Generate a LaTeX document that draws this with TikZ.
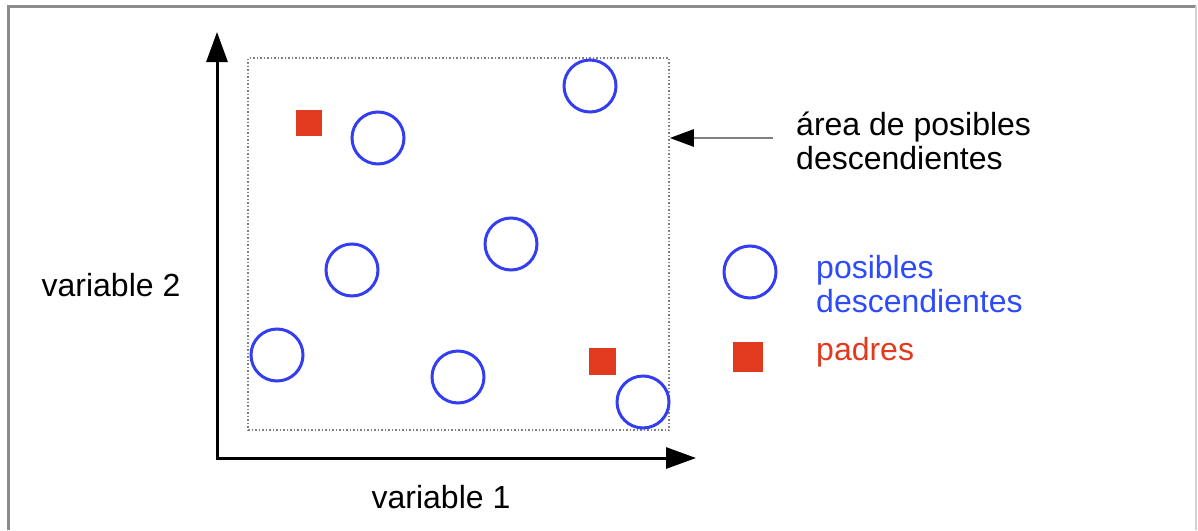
\documentclass[tikz,border=0pt]{standalone}
\usepackage{fontspec}
\setmainfont{Liberation Sans}
\usetikzlibrary{arrows.meta}
\definecolor{cblue}{RGB}{52,62,240}
\definecolor{tblue}{RGB}{45,75,250}
\definecolor{cred}{RGB}{226,58,30}
\definecolor{framegray}{RGB}{140,140,140}
\begin{document}
\begin{tikzpicture}[x=1pt,y=-1pt,
  desc/.style={circle,draw=cblue,line width=3pt,minimum size=52pt,inner sep=0pt},
  par/.style={rectangle,fill=cred,inner sep=0pt},
  axis/.style={line width=3pt,-{Triangle[length=30pt,width=21pt]}},
  lbl/.style={font=\fontsize{32}{34}\selectfont,inner sep=0pt,align=left}]
\useasboundingbox (0,0) rectangle (1198,530);
% frame
\draw[framegray,line width=3pt] (8,530) -- (8,6) -- (1196,6);
\draw[framegray!40,line width=2pt] (1196,6) -- (1196,530);
% area of possible offspring
\node[draw=gray,dotted,line width=1.5pt,minimum width=421pt,minimum height=372pt,inner sep=0pt] (area) at (458.5,244) {};
% axes
\coordinate (o) at (217,458);
\coordinate (ytip) at (217,32);
\coordinate (xtip) at (696,458);
\draw[axis] (o) -- (ytip);
\draw[axis] ([xshift=-1.5pt]o) -- (xtip);
% circles
\node[desc] (c1) at (590,86) {};
\node[desc] (c2) at (378,138) {};
\node[desc] (c3) at (511,244) {};
\node[desc] (c4) at (352,270) {};
\node[desc] (c5) at (277,355) {};
\node[desc] (c6) at (458,377) {};
\node[desc] (c7) at (643,402) {};
% parents
\node[par,minimum size=26pt] (p1) at (309,123) {};
\node[par,minimum size=27pt] (p2) at (602,361) {};
% legend
\node[desc] (lc) at (750,272) {};
\node[par,minimum size=30pt] (lp) at (748,357) {};
\node[lbl,text=tblue,anchor=west] (lct) at (816,284) {posibles\\descendientes};
\node[lbl,text=cred,anchor=west] (lpt) at (816,352) {padres};
% annotation
\node[lbl,anchor=west] (at) at (796,141) {área de posibles\\descendientes};
\coordinate (as) at (773,138);
\draw[gray,line width=2.5pt,-{Triangle[length=24pt,width=17pt,color=black]}] (as) -- (area.east |- as);
% axis labels
\node[lbl,anchor=center] (v2) at (111,285) {variable 2};
\node[lbl,anchor=center] (v1) at (441,497) {variable 1};
\end{tikzpicture}
\end{document}
